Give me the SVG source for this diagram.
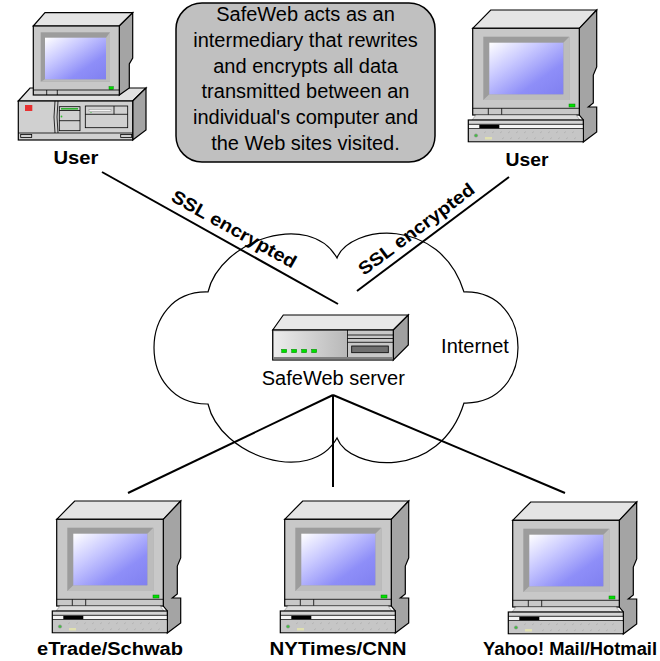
<svg xmlns="http://www.w3.org/2000/svg" xmlns:xlink="http://www.w3.org/1999/xlink" width="660" height="661" viewBox="0 0 660 661">
  <style>
    .ln { stroke: #000; stroke-width: 2; fill: none; }
    .ol { stroke: #000; stroke-width: 1.2; }
    .thin { stroke: #000; stroke-width: 0.8; fill: none; }
    .lbl { font-family: "Liberation Sans", Arial, sans-serif; font-size: 18px; font-weight: bold; fill: #000; text-anchor: middle; }
    .txt { font-family: "Liberation Sans", Arial, sans-serif; font-size: 20px; fill: #000; text-anchor: middle; }
    .ssl { font-family: "Liberation Sans", Arial, sans-serif; font-size: 18px; font-weight: bold; fill: #000; text-anchor: middle; }
    .led { fill: #00e000; stroke: #008000; stroke-width: 0.5; }
  </style>
  <defs>
    <linearGradient id="screen" x1="0" y1="0" x2="1" y2="1">
      <stop offset="0" stop-color="#ffffff"/>
      <stop offset="0.35" stop-color="#c8c8ff"/>
      <stop offset="0.7" stop-color="#8e8ef8"/>
      <stop offset="1" stop-color="#8080f0"/>
    </linearGradient>
    <linearGradient id="panel" x1="0" y1="0" x2="1" y2="0">
      <stop offset="0" stop-color="#ececec"/>
      <stop offset="1" stop-color="#b8b8b8"/>
    </linearGradient>
    <!-- flat-base workstation, origin at the left of the base front, y=0 at top of cabinet -->
    <g id="crt">
      <polygon class="ol" fill="#e4e4e4" points="4.7,18.3 22.7,0 128.7,0 111.3,18.3"/>
      <polygon class="ol" fill="#a4a4a4" points="111.3,18.3 128.7,0 128.7,57 125.3,65 125.3,93 120.3,97 128.7,97 128.7,122 115.3,132 115.3,110 111.3,105"/>
      <rect class="ol" fill="#c8c8c8" x="4.7" y="18.3" width="106.6" height="86.7"/>
      <rect fill="#9c9c9c" x="15.3" y="26.7" width="86" height="63.3"/>
      <polygon fill="#bcbcbc" points="101.3,26.7 101.3,90 15.3,90 21.3,84.3 95.3,84.3 95.3,32.7"/>
      <rect fill="url(#screen)" x="21.3" y="32.7" width="74" height="51.6"/>
      <rect class="led" x="101" y="94" width="6" height="3"/>
      <line class="thin" x1="4.7" y1="98.3" x2="111.3" y2="98.3"/>
      <line class="thin" x1="20.3" y1="98.3" x2="20.3" y2="105"/>
      <line class="thin" x1="33.7" y1="98.3" x2="33.7" y2="105"/>
      <polygon fill="#dcdcdc" stroke="#888" stroke-width="0.6" points="8,105 108,105 112,110 4,110"/>
      <rect class="ol" fill="#d4d4d4" x="0.3" y="110" width="115" height="21.7"/>
      <rect fill="#f4f4f4" x="1" y="114.5" width="113.5" height="4"/>
      <line class="thin" x1="0.3" y1="114.3" x2="115.3" y2="114.3"/>
      <line class="thin" x1="0.3" y1="118.6" x2="115.3" y2="118.6"/>
      <rect fill="#000" x="11.3" y="114.8" width="20" height="3.4"/>
      <rect fill="#c6c6c6" x="1" y="119.2" width="113.5" height="12"/>
      <g fill="none" stroke="#a8a8a8" stroke-width="0.6">
        <path d="M16,123 l2,-1.5 M24,123 l2,-1.5 M32,123 l2,-1.5 M40,123 l2,-1.5 M48,123 l2,-1.5 M56,123 l2,-1.5 M64,123 l2,-1.5 M72,123 l2,-1.5 M80,123 l2,-1.5 M88,123 l2,-1.5 M96,123 l2,-1.5 M104,123 l2,-1.5"/>
        <path d="M34,129 l2,-1.5 M42,129 l2,-1.5 M50,129 l2,-1.5 M58,129 l2,-1.5 M66,129 l2,-1.5 M74,129 l2,-1.5 M82,129 l2,-1.5 M90,129 l2,-1.5 M98,129 l2,-1.5 M106,129 l2,-1.5"/>
      </g>
      <circle cx="8" cy="125.5" r="1.6" fill="#40c040" stroke="#808080" stroke-width="0.5"/>
      <rect x="17" y="127" width="7" height="2.5" fill="#e0e0b0"/>
    </g>
  </defs>

  <!-- network cloud -->
  <g id="internet">
    <path class="ol" fill="#fff" stroke-width="1.5" d="M208,292 C220,240 310,210 337,258 C350,225 440,215 464,292 C536,290 536,405 464,403 C440,481 350,471 337,438 C310,486 220,456 208,404 C136,405 136,290 208,292 Z"/>
    <text class="txt" x="475" y="353">Internet</text>
  </g>

  <!-- links -->
  <g id="connectors">
    <line class="ln" x1="102" y1="172" x2="338" y2="304"/>
    <line class="ln" x1="509" y1="177" x2="357" y2="291"/>
    <line class="ln" x1="333" y1="395" x2="128" y2="493"/>
    <line class="ln" x1="333" y1="395" x2="333" y2="487"/>
    <line class="ln" x1="333" y1="395" x2="565" y2="493"/>
    <text class="ssl" transform="translate(231,234.5) rotate(29.2)" x="0" y="0" textLength="140" lengthAdjust="spacingAndGlyphs">SSL encrypted</text>
    <text class="ssl" transform="translate(420,234) rotate(-36.9)" x="0" y="0" textLength="140" lengthAdjust="spacingAndGlyphs">SSL encrypted</text>
  </g>

  <!-- proxy server -->
  <g id="server">
    <polygon class="ol" fill="#e8e8e8" points="272.7,330 283.3,315 408.3,315 393.3,330"/>
    <polygon class="ol" fill="#a0a0a0" points="393.3,330 408.3,315 408.3,345 393.3,360"/>
    <rect class="ol" fill="#c8c8c8" x="272.7" y="330" width="120.6" height="30"/>
    <rect fill="url(#panel)" x="274" y="331.5" width="73" height="25.5"/>
    <rect fill="#808080" x="273.3" y="357" width="119.4" height="2.4"/>
    <line class="thin" x1="347.5" y1="330" x2="347.5" y2="357"/>
    <line class="thin" x1="347.5" y1="335" x2="393" y2="335"/>
    <line class="thin" x1="347.5" y1="338.5" x2="393" y2="338.5"/>
    <line class="thin" x1="347.5" y1="342.3" x2="393" y2="342.3"/>
    <rect fill="#707070" stroke="#000" stroke-width="0.8" x="351.7" y="346" width="36.6" height="6.7"/>
    <rect class="led" x="281.7" y="349.3" width="5" height="3.4"/>
    <rect class="led" x="291.7" y="349.3" width="5" height="3.4"/>
    <rect class="led" x="301.7" y="349.3" width="5" height="3.4"/>
    <rect class="led" x="311.7" y="349.3" width="5" height="3.4"/>
    <text class="txt" x="333.3" y="385">SafeWeb server</text>
  </g>

  <!-- desktop user machine -->
  <g id="user-left">
    <polygon class="ol" fill="#e2e2e2" points="18.3,101 30,88 146,88 132.7,101"/>
    <polygon class="ol" fill="#a4a4a4" points="132.7,101 146,88 146,130 132.7,140"/>
    <rect class="ol" fill="#d0d0d0" x="18.3" y="101" width="114.4" height="39"/>
    <rect x="25" y="105" width="7.3" height="6" fill="#e83030"/>
    <path class="thin" d="M55,101 Q53,117 55,133 M58,101 Q56,117 58,133"/>
    <rect class="thin" x="59.3" y="106.7" width="20.7" height="24"/>
    <line class="thin" x1="59.3" y1="110.5" x2="80" y2="110.5"/>
    <line class="thin" x1="59.3" y1="120.7" x2="80" y2="120.7"/>
    <rect x="61" y="108" width="17" height="1.6" fill="#30b030"/>
    <circle cx="61.5" cy="116.5" r="0.9" fill="#30c030"/>
    <rect class="thin" x="85.3" y="106" width="42.4" height="21.7"/>
    <line class="thin" x1="85.3" y1="114.3" x2="127.7" y2="114.3"/>
    <line class="thin" x1="114" y1="106" x2="114" y2="114.3"/>
    <rect x="89" y="109.5" width="22" height="2" fill="#f4f4f4" stroke="#777" stroke-width="0.4"/>
    <circle cx="91" cy="112.5" r="0.6" fill="#30c030"/>
    <line class="thin" x1="18.3" y1="133" x2="132.7" y2="133"/>
    <rect class="thin" fill="#b0b0b0" x="20.7" y="134.5" width="11" height="3"/>
    <rect class="thin" fill="#b0b0b0" x="120.7" y="134.5" width="11" height="3"/>
    <polygon class="ol" fill="#e4e4e4" points="33.3,26 45,12.7 132.7,12.7 119.3,26"/>
    <polygon class="ol" fill="#a4a4a4" points="119.3,26 132.7,12.7 132.7,58 129.3,64 129.3,88 119.3,95"/>
    <rect class="ol" fill="#c8c8c8" x="33.3" y="26" width="86" height="69"/>
    <rect fill="#9c9c9c" x="40.7" y="32.3" width="69.3" height="49.4"/>
    <polygon fill="#bcbcbc" points="110,32.3 110,81.7 40.7,81.7 45,79.3 106,79.3 106,37.7"/>
    <rect fill="url(#screen)" x="45" y="37.7" width="61" height="41.6"/>
    <rect class="led" x="109" y="86.7" width="4.3" height="2.6"/>
    <line class="thin" x1="33.3" y1="90" x2="119.3" y2="90"/>
    <line class="thin" x1="46.7" y1="90" x2="46.7" y2="95"/>
    <line class="thin" x1="57.3" y1="90" x2="57.3" y2="95"/>
    <text class="lbl" x="76" y="164" textLength="45" lengthAdjust="spacingAndGlyphs">User</text>
  </g>

  <g id="user-right">
    <use xlink:href="#crt" href="#crt" transform="translate(468,10)"/>
    <text class="lbl" x="527" y="165.5" textLength="43" lengthAdjust="spacingAndGlyphs">User</text>
  </g>

  <!-- destination sites -->
  <g id="site-etrade">
    <use xlink:href="#crt" href="#crt" transform="translate(52,501)"/>
    <text class="lbl" x="110" y="655" textLength="146" lengthAdjust="spacingAndGlyphs">eTrade/Schwab</text>
  </g>
  <g id="site-nytimes">
    <use xlink:href="#crt" href="#crt" transform="translate(280,501)"/>
    <text class="lbl" x="338" y="655" textLength="137" lengthAdjust="spacingAndGlyphs">NYTimes/CNN</text>
  </g>
  <g id="site-yahoo">
    <use xlink:href="#crt" href="#crt" transform="translate(508,502)"/>
    <text class="lbl" x="570" y="655" textLength="174" lengthAdjust="spacingAndGlyphs">Yahoo! Mail/Hotmail</text>
  </g>

  <!-- callout note -->
  <g id="note">
    <rect x="176" y="3" width="259" height="159" rx="26" ry="26" fill="#c0c0c0" stroke="#000" stroke-width="1.5"/>
    <text class="txt" x="305.5" y="20.7">SafeWeb acts as an</text>
    <text class="txt" x="305.5" y="46.7">intermediary that rewrites</text>
    <text class="txt" x="305.5" y="72.7">and encrypts all data</text>
    <text class="txt" x="305.5" y="98.3">transmitted between an</text>
    <text class="txt" x="305.5" y="124.3">individual's computer and</text>
    <text class="txt" x="305.5" y="150">the Web sites visited.</text>
  </g>
</svg>
